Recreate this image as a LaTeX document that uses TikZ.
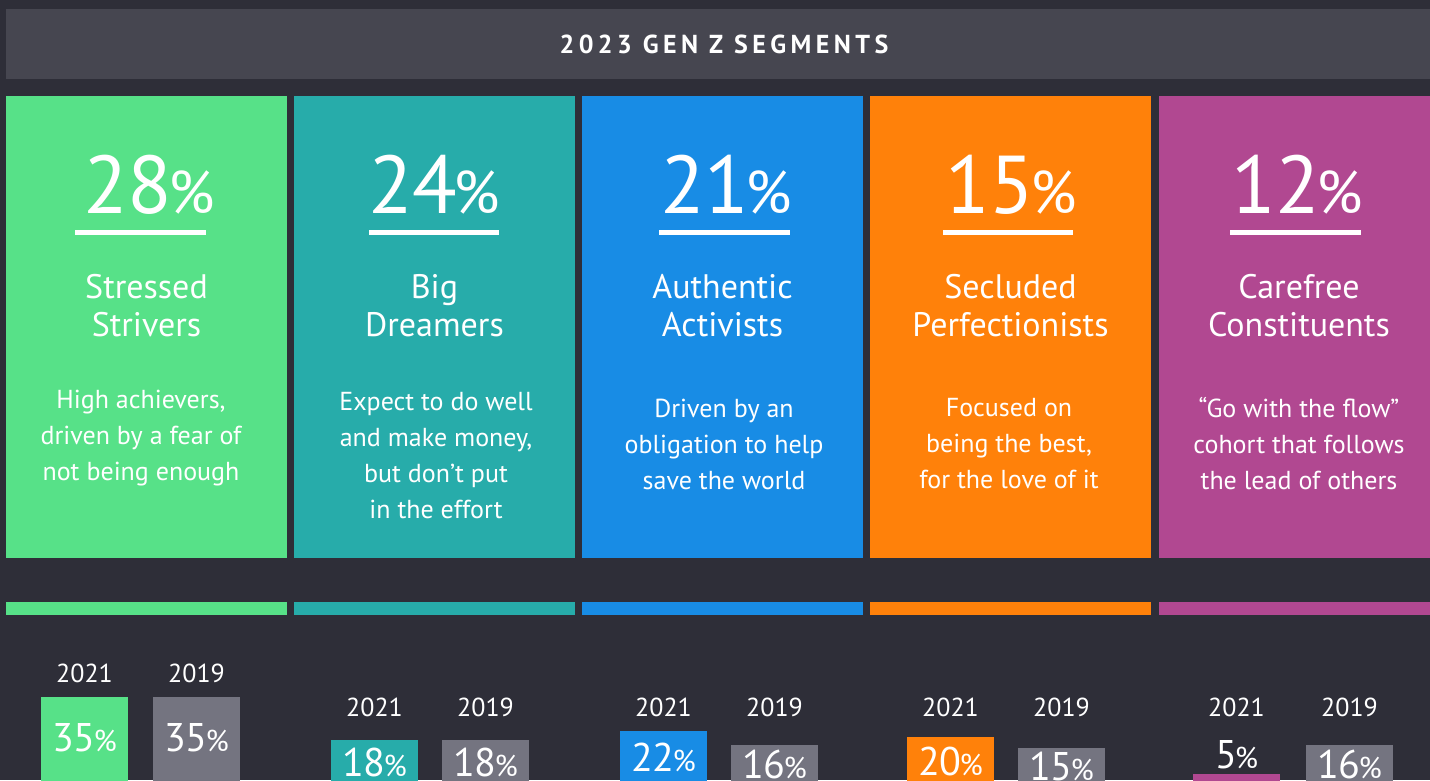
\documentclass[tikz,border=0pt]{standalone}
\usepackage{fontspec}
\setmainfont{PT Sans}
\newfontfamily\headfont[LetterSpace=17]{PT Sans}
\usepackage{xcolor}
\usepackage{tikz}
\usetikzlibrary{calc, positioning}
\definecolor{eydark}{HTML}{2E2E38}
\definecolor{eyhead}{HTML}{464650}
\definecolor{eygrey}{HTML}{747480}
\definecolor{strivers}{HTML}{57E188}
\definecolor{dreamers}{HTML}{27ACAA}
\definecolor{activists}{HTML}{188CE5}
\definecolor{perfect}{HTML}{FF810A}
\definecolor{carefree}{HTML}{B14891}
\tikzset{
    headtext/.style={text=white, font=\headfont\bfseries\fontsize{26}{26}\selectfont},
    bignum/.style={text=white, anchor=base, inner sep=0pt, font=\fontsize{82}{82}\selectfont},
    segname/.style={text=white, align=center, font=\fontsize{34}{38}\selectfont},
    segtext/.style={text=white, align=center, font=\fontsize{26}{36}\selectfont}
}
\newcommand{\bigpct}[1]{#1\kern-4pt{\fontsize{60}{60}\selectfont\%}}
\newcommand{\barpct}[1]{#1\kern-2pt{\fontsize{30}{30}\selectfont\%}}

\begin{document}
\begin{tikzpicture}[x=1pt,y=-1pt]
\tikzset{
    yearlabel/.style={text=white, font=\fontsize{26}{26}\selectfont},
    barlabel/.style={text=white, font=\fontsize{40}{40}\selectfont},
    uline/.style={white, line width=5pt}
}
  \clip (0,0) rectangle (1430,780);
  \fill[eydark] (0,0) rectangle (1430,780);
  \fill[eyhead] (6,9) rectangle (1430,79);
  \node[headtext] (head) at (724,44) {2023 GEN Z SEGMENTS};

  \fill[strivers] (6,96) rectangle (287,558);
  \fill[dreamers] (294,96) rectangle (575,558);
  \fill[activists] (582,96) rectangle (863,558);
  \fill[perfect] (870,96) rectangle (1151,558);
  \fill[carefree] (1159,96) rectangle (1440,558);

  \node[bignum] (pct1) at (149,213) {\bigpct{28}};
  \node[bignum] (pct2) at (434,213) {\bigpct{24}};
  \node[bignum] (pct3) at (726,213) {\bigpct{21}};
  \node[bignum] (pct4) at (1011,213) {\bigpct{15}};
  \node[bignum] (pct5) at (1297,213) {\bigpct{12}};
  \draw[uline] (75,232) -- (206,232);
  \draw[uline] (369,232) -- (499,232);
  \draw[uline] (659,232) -- (790,232);
  \draw[uline] (943,232) -- (1073,232);
  \draw[uline] (1230,232) -- (1361,232);

  \node[segname] (name1) at (146.5,306) {Stressed\\Strivers};
  \node[segname] (name2) at (434.5,306) {Big\\Dreamers};
  \node[segname] (name3) at (722.5,306) {Authentic\\Activists};
  \node[segname] (name4) at (1010.5,306) {Secluded\\Perfectionists};
  \node[segname] (name5) at (1299,306) {Carefree\\Constituents};

  \node[segtext] (desc1) at (141,438) {High achievers,\\driven by a fear of\\not being enough};
  \node[segtext] (desc2) at (436,456) {Expect to do well\\and make money,\\but don’t put\\in the effort};
  \node[segtext] (desc3) at (724,444) {Driven by an\\obligation to help\\save the world};
  \node[segtext] (desc4) at (1009,444) {Focused on\\being the best,\\for the love of it};
  \node[segtext] (desc5) at (1299,444) {“Go with the flow”\\cohort that follows\\the lead of others};

  \fill[strivers] (6,602) rectangle (287,615);
  \fill[dreamers] (294,602) rectangle (575,615);
  \fill[activists] (582,602) rectangle (863,615);
  \fill[perfect] (870,602) rectangle (1151,615);
  \fill[carefree] (1159,602) rectangle (1440,615);

  \fill[strivers] (41,697) rectangle (128,790);
  \fill[eygrey] (153,697) rectangle (240,790);
  \fill[dreamers] (331,740) rectangle (418,790);
  \fill[eygrey] (442,740) rectangle (529,790);
  \fill[activists] (620,731) rectangle (707,790);
  \fill[eygrey] (731,745) rectangle (818,790);
  \fill[perfect] (907,737) rectangle (994,790);
  \fill[eygrey] (1018,748) rectangle (1105,790);
  \fill[carefree] (1193,774) rectangle (1280,790);
  \fill[eygrey] (1306,745) rectangle (1393,790);

  \node[yearlabel] (y1a) at (84.5,673) {2021};
  \node[yearlabel] (y1b) at (196.5,673) {2019};
  \node[yearlabel] (y2a) at (374.5,707) {2021};
  \node[yearlabel] (y2b) at (485.5,707) {2019};
  \node[yearlabel] (y3a) at (663.5,707) {2021};
  \node[yearlabel] (y3b) at (774.5,707) {2019};
  \node[yearlabel] (y4a) at (950.5,707) {2021};
  \node[yearlabel] (y4b) at (1061.5,707) {2019};
  \node[yearlabel] (y5a) at (1236.5,707) {2021};
  \node[yearlabel] (y5b) at (1349.5,707) {2019};

  \node[barlabel] (v1a) at (84.5,738) {\barpct{35}};
  \node[barlabel] (v1b) at (196.5,738) {\barpct{35}};
  \node[barlabel] (v2a) at (374.5,762) {\barpct{18}};
  \node[barlabel] (v2b) at (485.5,762) {\barpct{18}};
  \node[barlabel] (v3a) at (663.5,757) {\barpct{22}};
  \node[barlabel] (v3b) at (774.5,764) {\barpct{16}};
  \node[barlabel] (v4a) at (950.5,761) {\barpct{20}};
  \node[barlabel] (v4b) at (1061.5,766) {\barpct{15}};
  \node[barlabel] (v5a) at (1236.5,755) {\barpct{5}};
  \node[barlabel] (v5b) at (1349.5,764) {\barpct{16}};
\end{tikzpicture}
\end{document}
